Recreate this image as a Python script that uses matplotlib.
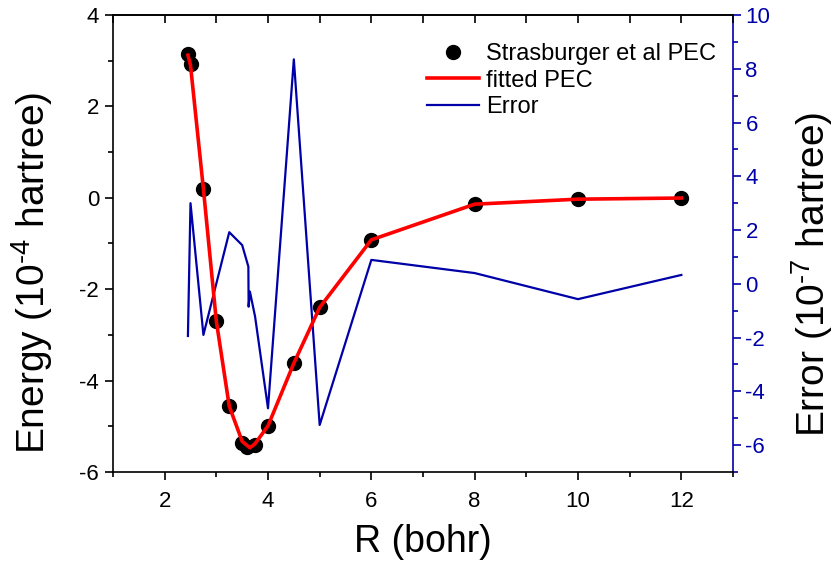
import matplotlib
matplotlib.use("Agg")
import matplotlib.pyplot as plt
from matplotlib.ticker import MultipleLocator

plt.rcParams['font.family'] = ['Liberation Sans', 'DejaVu Sans']
plt.rcParams['axes.unicode_minus'] = False
plt.rcParams['mathtext.fontset'] = 'custom'
plt.rcParams['mathtext.rm'] = 'Liberation Sans'
plt.rcParams['mathtext.it'] = 'Liberation Sans:italic'
plt.rcParams['mathtext.bf'] = 'Liberation Sans:bold'
plt.rcParams['mathtext.default'] = 'regular'

# Strasburger et al PEC points
R_pec = [2.45, 2.5, 2.75, 3.0, 3.25, 3.5, 3.6, 3.75, 4.0, 4.5, 5.0, 6.0, 8.0, 10.0, 12.0]
E_pec = [3.15, 2.93, 0.19, -2.70, -4.56, -5.37, -5.45, -5.40, -4.99, -3.62, -2.40, -0.92, -0.14, -0.03, -0.005]

# fitted PEC
R_fit = [2.45, 2.5, 2.75, 3.0, 3.25, 3.5, 3.65, 3.75, 4.0, 4.5, 5.0, 6.0, 8.0, 10.0, 12.0]
E_fit = [3.12, 2.90, 0.19, -2.70, -4.56, -5.33, -5.47, -5.38, -4.99, -3.62, -2.40, -0.92, -0.14, -0.03, -0.005]

# fit error (1e-7 hartree)
R_err = [2.45, 2.5, 2.75, 3.25, 3.5, 3.62, 3.625, 3.65, 3.75, 4.0, 4.5, 5.0, 6.0, 8.0, 10.0, 12.0]
Err = [-1.94, 3.0, -1.9, 1.92, 1.44, 0.64, -0.85, -0.29, -1.22, -4.63, 8.35, -5.25, 0.89, 0.40, -0.57, 0.33]

blue = '#0000A8'

fig = plt.figure(figsize=(8.34, 5.74), dpi=100)
ax = fig.add_axes([113/834, 1-472/574, (733-113)/834, (472-15)/574])
ax2 = ax.twinx()

ax.plot(R_pec, E_pec, 'o', color='black', markersize=10, label='Strasburger et al PEC', zorder=2)
ax.plot(R_fit, E_fit, '-', color='red', linewidth=2.6, label='fitted PEC', zorder=3)
ax2.plot(R_err, Err, '-', color=blue, linewidth=1.6, label='Error')

ax.set_zorder(ax2.get_zorder() + 1)
ax.patch.set_visible(False)

ax.set_xlim(1, 13)
ax.set_ylim(-6, 4)
ax2.set_ylim(-7, 10)

ax.xaxis.set_major_locator(MultipleLocator(2))
ax.xaxis.set_minor_locator(MultipleLocator(1))
ax.yaxis.set_major_locator(MultipleLocator(2))
ax.yaxis.set_minor_locator(MultipleLocator(1))
ax2.yaxis.set_major_locator(MultipleLocator(2))
ax2.yaxis.set_minor_locator(MultipleLocator(1))

ax.tick_params(axis='both', which='major', direction='out', length=6, width=1.2, labelsize=16, pad=4)
ax.tick_params(axis='both', which='minor', direction='out', length=3.5, width=1.2)
ax.tick_params(axis='x', pad=8)
ax.tick_params(right=False, top=False, which='both')

ax2.tick_params(axis='y', which='major', direction='out', length=6, width=1.2, labelsize=16,
                colors=blue, pad=3)
ax2.tick_params(axis='y', which='minor', direction='out', length=3.5, width=1.2, colors=blue)

for s in ['left', 'bottom', 'top']:
    ax.spines[s].set_linewidth(1.2)
ax.spines['right'].set_visible(False)
ax2.spines['right'].set_color(blue)
ax2.spines['right'].set_linewidth(1.2)
for s in ['left', 'bottom', 'top']:
    ax2.spines[s].set_visible(False)

sec = ax.secondary_xaxis('top')
sec.xaxis.set_major_locator(MultipleLocator(1))
sec.tick_params(direction='in', length=6, width=1.2, labeltop=False)
sec.spines['top'].set_linewidth(1.2)

ax.set_xlabel('R (bohr)', fontsize=27, labelpad=8)
ax.set_ylabel('Energy (10$^{\\text{-}4}$ hartree)', fontsize=28)
ax2.set_ylabel('Error (10$^{\\text{-}7}$ hartree)', fontsize=28)
ax.yaxis.set_label_coords(-0.0935, 0.435)
ax2.yaxis.set_label_coords(1.09, 0.433)

h1, l1 = ax.get_legend_handles_labels()
h2, l2 = ax2.get_legend_handles_labels()
ax.legend(h1 + h2, l1 + l2, loc='upper right', bbox_to_anchor=(0.995, 0.97), frameon=False,
          fontsize=17, handlelength=2.2, handletextpad=0.3, labelspacing=0.2, borderaxespad=0.2)

fig.savefig('out.png', dpi=100)
